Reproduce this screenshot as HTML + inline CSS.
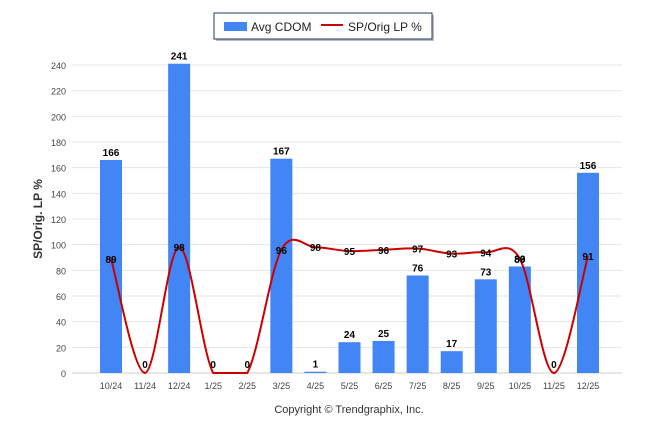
<!DOCTYPE html>
<html><head><meta charset="utf-8">
<style>
body{margin:0;background:#fff;font-family:"Liberation Sans",sans-serif}
svg{display:block}
</style></head><body>
<svg id="c" width="646" height="434">
<g>
<rect x="216" y="15" width="218" height="26" fill="#bbb"/>
<rect x="214" y="13" width="218" height="26" fill="#fff" stroke="#1f3864" stroke-width="1"/>
<rect x="224" y="22" width="23" height="9" fill="#4285f4"/>
<text x="251" y="31" font-size="12" fill="#222">Avg CDOM</text>
<line x1="321" y1="25" x2="343" y2="25" stroke="#cc0000" stroke-width="2"/>
<text x="348" y="31" font-size="12" fill="#222">SP/Orig LP %</text>
</g>
<text transform="translate(42,219) rotate(-90)" text-anchor="middle" font-size="12" font-weight="bold" fill="#333">SP/Orig. LP %</text>
<text x="349" y="413" text-anchor="middle" font-size="11" fill="#333">Copyright © Trendgraphix, Inc.</text>
<g id="grid"></g><g id="bars"></g><g id="line"></g><g id="labels"></g>
</svg>
<script>
const categories=["10/24","11/24","12/24","1/25","2/25","3/25","4/25","5/25","6/25","7/25","8/25","9/25","10/25","11/25","12/25"];
const cdom=[166,0,241,0,0,167,1,24,25,76,17,73,83,0,156];
const sp=[89,0,98,0,0,96,98,95,96,97,93,94,89,0,91];
const yTicks=[0,20,40,60,80,100,120,140,160,180,200,220,240];
const NS="http://www.w3.org/2000/svg";
const x0=72,x1=622,y0=373,yTop=65;
const xs=i=>111+i*34.07;
const ys=v=>y0-(v/240)*(y0-yTop);
function mk(t,a,p){const e=document.createElementNS(NS,t);for(const k in a)e.setAttribute(k,a[k]);document.getElementById(p).appendChild(e);return e;}
yTicks.forEach(v=>{
 const l=mk('line',{x1:x0,x2:x1,y1:ys(v),y2:ys(v),stroke:v===0?'#ccc':'#e6e6e6'},'grid');
 
 
 const t=mk('text',{x:66,y:ys(v)+4,'text-anchor':'end','font-size':9,fill:'#444'},'grid');t.textContent=v;
 
 
});
categories.forEach((c,i)=>{
 const t=mk('text',{x:xs(i),y:389,'text-anchor':'middle','font-size':9,fill:'#444'},'grid');t.textContent=c;
 
 
 const h=y0-ys(cdom[i]);
 if(cdom[i]>0){const b=mk('rect',{x:xs(i)-11,y:ys(cdom[i]),width:22,height:h,fill:'#4285f4'},'bars');
 
 
 const bl=mk('text',{x:xs(i),y:ys(cdom[i])-4,'text-anchor':'middle','font-size':10,'font-weight':'bold',fill:'#000'},'labels');bl.textContent=cdom[i];
 
 }
 const ly=sp[i]===0?ys(0)-5:ys(sp[i])+4;
 const ll=mk('text',{x:xs(i),y:ly,'text-anchor':'middle','font-size':10,'font-weight':'bold',fill:'#000'},'labels');ll.textContent=sp[i];
 
 
});
const pts=sp.map((v,i)=>[xs(i),ys(v)]);
let d='M'+pts[0][0]+','+pts[0][1];
const cl=y=>Math.min(y,y0);
for(let i=0;i<pts.length-1;i++){
 const p0=pts[Math.max(i-1,0)],p1=pts[i],p2=pts[i+1],p3=pts[Math.min(i+2,pts.length-1)];
 const k=1/6;
 d+=` C${p1[0]+(p2[0]-p0[0])*k},${cl(p1[1]+(p2[1]-p0[1])*k)} ${p2[0]-(p3[0]-p1[0])*k},${cl(p2[1]-(p3[1]-p1[1])*k)} ${p2[0]},${p2[1]}`;
}
const pl=mk('path',{d:d,fill:'none',stroke:'#cc0000','stroke-width':2},'line');


</script>
</body></html>
